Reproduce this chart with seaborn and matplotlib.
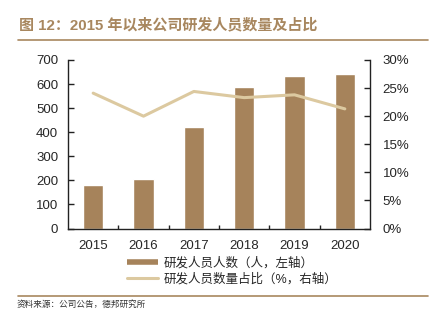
import matplotlib
matplotlib.use("Agg")
import matplotlib.pyplot as plt
import seaborn as sns
import pandas as pd
from matplotlib.lines import Line2D
from matplotlib.ticker import MultipleLocator, FuncFormatter, FixedLocator

years = [2015, 2016, 2017, 2018, 2019, 2020]
rd_staff = [180, 205, 422, 588, 633, 643]
rd_ratio = [24.1, 20.0, 24.4, 23.3, 23.8, 21.3]
bar_label = "研发人员人数（人，左轴）"
line_label = "研发人员数量占比（%，右轴）"
title = "图 12：2015 年以来公司研发人员数量及占比"
source = "资料来源：公司公告，德邦研究所"

df = pd.DataFrame({"year": years, "staff": rd_staff, "ratio": rd_ratio})

sns.set_theme(style="white")
plt.rcParams["font.family"] = ["Liberation Sans", "Noto Sans CJK SC", "DejaVu Sans"]

bar_color = "#a6835b"
line_color = "#dcc9a0"
accent = "#a8875f"

fig = plt.figure(figsize=(4.35, 3.36), dpi=100)
ax = fig.add_axes([68 / 435, 1 - 228.5 / 336, 302 / 435, 168.5 / 336])

sns.barplot(data=df, x="year", y="staff", native_scale=True, width=0.4,
            color=bar_color, saturation=1, ax=ax, errorbar=None)
ax2 = ax.twinx()
sns.lineplot(data=df, x="year", y="ratio", ax=ax2, color=line_color, linewidth=2.2)

ax.set_xlim(years[0] - 0.5, years[-1] + 0.5)
ax.set_ylim(0, 700)
ax2.set_ylim(0, 30)
ax.yaxis.set_major_locator(MultipleLocator(100))
ax2.yaxis.set_major_locator(MultipleLocator(5))
ax2.yaxis.set_major_formatter(FuncFormatter(lambda v, p: f"{v:.0f}%"))
ax.xaxis.set_major_locator(FixedLocator(years))
ax.xaxis.set_minor_locator(FixedLocator([y + 0.5 for y in years[:-1]]))
ax.set_xticklabels([str(y) for y in years])

for a in (ax, ax2):
    a.set_xlabel("")
    a.set_ylabel("")
    a.spines["top"].set_visible(False)
    for s in ("left", "right", "bottom"):
        a.spines[s].set_color("#222222")
        a.spines[s].set_linewidth(1.0)
ax.spines["right"].set_visible(False)
ax2.spines["left"].set_visible(False)
ax2.spines["bottom"].set_visible(False)

ax.tick_params(axis="y", direction="in", length=4, width=1, color="#222222",
               labelsize=9.5, pad=7, left=True)
ax2.tick_params(axis="y", direction="in", length=4, width=1, color="#222222",
                labelsize=9.5, pad=9, right=True)
ax.tick_params(axis="x", which="major", length=0, labelsize=9.5, pad=8)
ax.tick_params(axis="x", which="minor", direction="in", length=3, width=1,
               color="#222222", bottom=True)

handles = [Line2D([], [], color=bar_color, lw=4, solid_capstyle="butt"),
           Line2D([], [], color=line_color, lw=2.2)]
fig.legend(handles, [bar_label, line_label], loc="center left",
           bbox_to_anchor=(127 / 435, 1 - 271.3 / 336), frameon=False, ncol=1,
           fontsize=9, handlelength=2.5, handletextpad=0.4, labelspacing=0.28,
           borderpad=0, borderaxespad=0)

fig.text(19 / 435, 1 - 25 / 336, title, fontsize=10.8, fontweight="bold",
         color=accent, va="center", ha="left")
fig.add_artist(Line2D([18 / 435, 428 / 435], [1 - 40 / 336, 1 - 40 / 336],
                      color=accent, lw=1.2, transform=fig.transFigure))
fig.add_artist(Line2D([18 / 435, 428 / 435], [1 - 296 / 336, 1 - 296 / 336],
                      color=accent, lw=1.2, transform=fig.transFigure))
fig.text(17 / 435, 1 - 304 / 336, source, fontsize=6.2, color="#333333",
         va="center", ha="left")

fig.savefig("out.png", dpi=100)
